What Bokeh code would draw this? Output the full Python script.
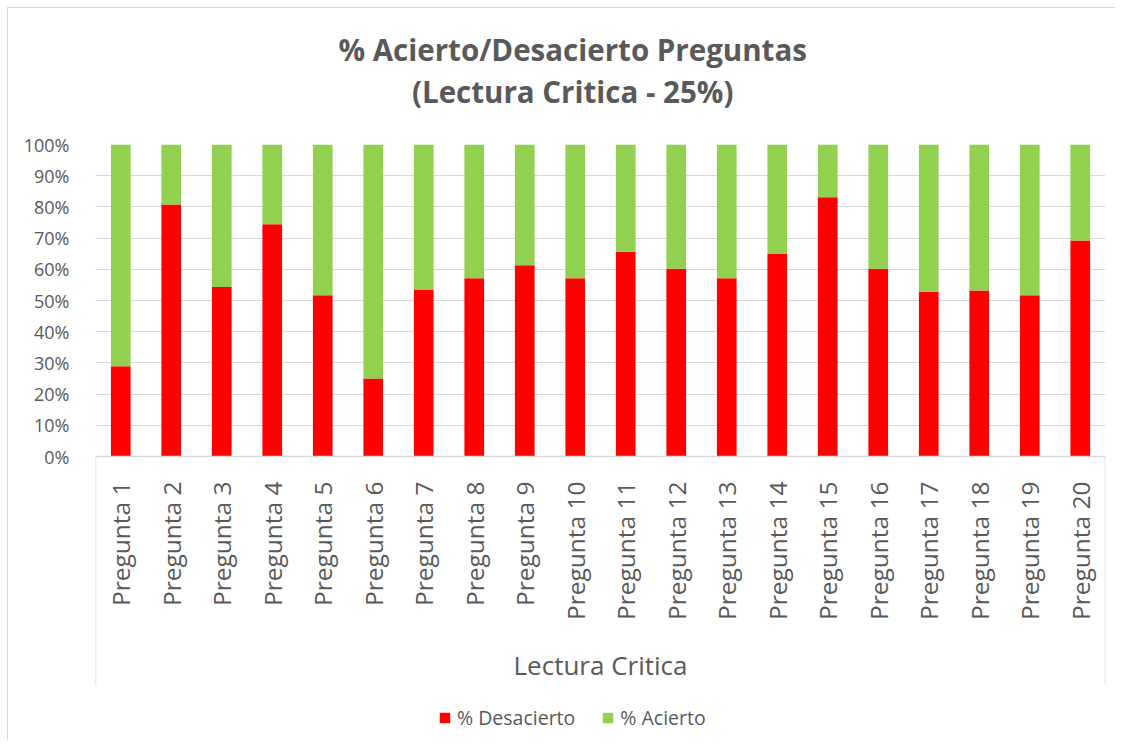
import math
from bokeh.plotting import figure
from bokeh.models import (Title, Legend, LegendItem, FixedTicker, NumeralTickFormatter,
                          Range1d, FactorRange, ColumnDataSource)
from bokeh.embed import file_html
from bokeh.resources import INLINE

categories = ["Pregunta 1", "Pregunta 2", "Pregunta 3", "Pregunta 4", "Pregunta 5",
              "Pregunta 6", "Pregunta 7", "Pregunta 8", "Pregunta 9", "Pregunta 10",
              "Pregunta 11", "Pregunta 12", "Pregunta 13", "Pregunta 14", "Pregunta 15",
              "Pregunta 16", "Pregunta 17", "Pregunta 18", "Pregunta 19", "Pregunta 20"]
desacierto = [0.289, 0.808, 0.543, 0.744, 0.517, 0.250, 0.535, 0.571, 0.613, 0.571,
              0.656, 0.602, 0.571, 0.649, 0.831, 0.602, 0.528, 0.532, 0.517, 0.692]
acierto = [0.711, 0.192, 0.457, 0.256, 0.483, 0.750, 0.465, 0.429, 0.387, 0.429,
           0.344, 0.398, 0.429, 0.351, 0.169, 0.398, 0.472, 0.468, 0.483, 0.308]
y_ticks = [0.0, 0.1, 0.2, 0.3, 0.4, 0.5, 0.6, 0.7, 0.8, 0.9, 1.0]
title_line1 = "% Acierto/Desacierto Preguntas"
title_line2 = "(Lectura Critica - 25%)"
group_label = "Lectura Critica"
series_names = ["% Desacierto", "% Acierto"]

FONT = "Open Sans"
TXT = "#595959"
GRID = "#d9d9d9"
RED = "#ff0000"
GREEN = "#92d050"

# layout geometry (pixels)
W, H = 1108, 733
frame_top, frame_left, frame_right_border = 136, 87, 11
px_per_unit = 312.0
frame_h = H - frame_top
y_start = 1.0 - frame_h / px_per_unit
box_depth = 229.0 / px_per_unit

src = ColumnDataSource(dict(cat=categories, des=desacierto, aci=acierto))

p = figure(x_range=FactorRange(factors=categories), y_range=Range1d(y_start, 1.0),
           width=W, height=H, output_backend="svg", toolbar_location=None, title=None,
           min_border_left=frame_left, min_border_right=frame_right_border,
           min_border_top=frame_top, min_border_bottom=0,
           styles={"margin-left": "7px", "margin-top": "7px",
                   "border-left": "1px solid #d9d9d9", "border-top": "1px solid #d9d9d9"})
p.outline_line_color = None
p.background_fill_color = "white"
p.border_fill_color = "white"

rs = p.vbar_stack(["des", "aci"], x="cat", width=0.39, color=[RED, GREEN],
                  line_color=None, source=src)

# group box sides below the category axis
n = len(categories)
p.segment(x0=[0, n], y0=[0, 0], x1=[0, n], y1=[-box_depth, -box_depth],
          line_color=GRID, line_width=1.5)

# y axis
p.yaxis.ticker = FixedTicker(ticks=y_ticks)
p.yaxis.formatter = NumeralTickFormatter(format="0%")
p.yaxis.axis_line_color = None
p.yaxis.major_tick_line_color = None
p.yaxis.minor_tick_line_color = None
p.yaxis.major_label_standoff = 20
p.yaxis.major_label_text_font = FONT
p.yaxis.major_label_text_font_size = "18px"
p.yaxis.major_label_text_color = TXT
p.ygrid.grid_line_color = GRID
p.ygrid.grid_line_width = 1
p.xgrid.grid_line_color = None

# x axis
p.xaxis.fixed_location = 0
p.xaxis.major_label_orientation = math.pi / 2
p.xaxis.major_label_text_font = FONT
p.xaxis.major_label_text_font_size = "24.5px"
p.xaxis.major_label_text_color = TXT
p.xaxis.major_label_standoff = 19
p.xaxis.major_tick_line_color = None
p.xaxis.minor_tick_line_color = None
p.xaxis.axis_line_color = GRID
p.xaxis.axis_line_width = 1.5
p.xaxis.axis_label = group_label
p.xaxis.axis_label_text_font = FONT
p.xaxis.axis_label_text_font_size = "26px"
p.xaxis.axis_label_text_font_style = "normal"
p.xaxis.axis_label_text_color = TXT
p.xaxis.axis_label_standoff = 24

# spacer between frame and title, then the two-line title
spacer = Title(text=" ", text_font_size="1px", standoff=29)
p.add_layout(spacer, "above")
title = Title(text=title_line1 + "\n" + title_line2, align="left", offset=243,
              text_align="center",
              text_font=FONT, text_font_size="29.5px", text_font_style="bold",
              text_color=TXT, text_line_height=1.046, standoff=0)
p.add_layout(title, "above")

legend = Legend(items=[LegendItem(label=series_names[0], renderers=[rs[0]]),
                       LegendItem(label=series_names[1], renderers=[rs[1]])],
                location=(343, 10), orientation="horizontal",
                label_text_font=FONT, label_text_font_size="19.5px", label_text_color=TXT,
                glyph_width=13, glyph_height=13, label_standoff=6, spacing=26,
                padding=5, margin=0, border_line_color=None, background_fill_alpha=0)
p.add_layout(legend)

open("out.html", "w").write(file_html(p, INLINE))
